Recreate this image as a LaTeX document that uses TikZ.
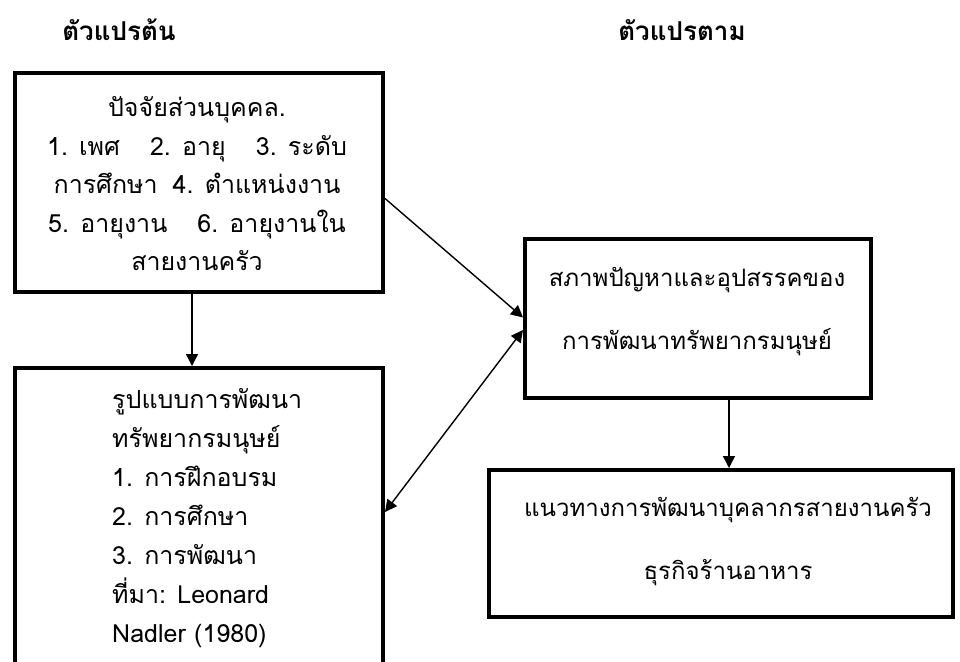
\documentclass[tikz,border=0pt]{standalone}
\usepackage{fontspec}
\newfontfamily\thai[Script=Thai]{Loma}
\usetikzlibrary{arrows.meta}
\tikzset{
  box/.style={draw, line width=4pt, rectangle, inner sep=0pt},
  arr/.style={line width=1.4pt, -{Triangle[length=12pt,width=12pt]}},
  darr/.style={line width=1.4pt, {Triangle[length=12pt,width=12pt]}-{Triangle[length=12pt,width=12pt]}},
  title/.style={font=\thai\bfseries\fontsize{26}{30}\selectfont, inner sep=0pt},
  txt/.style={font=\thai\fontsize{25}{38.5}\selectfont, inner sep=0pt},
  wide/.style={font=\thai\fontsize{24}{63}\selectfont, inner sep=0pt, align=center},
}
\begin{document}
\begin{tikzpicture}[x=1pt, y=-1pt]
\useasboundingbox (0,0) rectangle (960,661);
\clip (0,0) rectangle (960,661);
\node[title] (t1) at (119,30) {ตัวแปรต้น};
\node[title] (t2) at (682,30) {ตัวแปรตาม};
\node[box, minimum width=368pt, minimum height=219pt] (b1) at (199,182.5) {};
\node[box, minimum width=368pt, minimum height=332pt] (b2) at (199,534) {};
\node[box, minimum width=346pt, minimum height=159pt] (b3) at (698,318.5) {};
\node[box, minimum width=464pt, minimum height=147pt] (b4) at (721,543.5) {};
\node[txt, align=center] (x1) at (197,184) {ปัจจัยส่วนบุคคล.\\1. เพศ\hspace{1.2em}2. อายุ\hspace{1.2em}3. ระดับ\\การศึกษา\hspace{0.6em}4. ตำแหน่งงาน\\5. อายุงาน\hspace{1.2em}6. อายุงานใน\\สายงานครัว};
\node[txt, font=\thai\fontsize{25}{39}\selectfont, align=left, anchor=north west] (x2) at (112,388) {รูปแบบการพัฒนา\\ทรัพยากรมนุษย์\\1. การฝึกอบรม\\2. การศึกษา\\3. การพัฒนา\\ที่มา: Leonard\\Nadler (1980)};
\node[wide] (x3) at (697,312) {สภาพปัญหาและอุปสรรคของ\\การพัฒนาทรัพยากรมนุษย์};
\node[wide] (x4) at (728,542) {แนวทางการพัฒนาบุคลากรสายงานครัว\\ธุรกิจร้านอาหาร};
\draw[arr] ([xshift=-7pt]b1.south) -- ([xshift=-7pt]b2.north);
\draw[arr] ([yshift=-16pt]b1.east) -- ([yshift=1pt]b3.west);
\draw[darr] ([yshift=22pt]b2.east) -- ([yshift=-11.5pt]b3.west);
\draw[arr] ([xshift=31pt]b3.south) coordinate (s) -- (s |- b4.north);
\end{tikzpicture}
\end{document}
